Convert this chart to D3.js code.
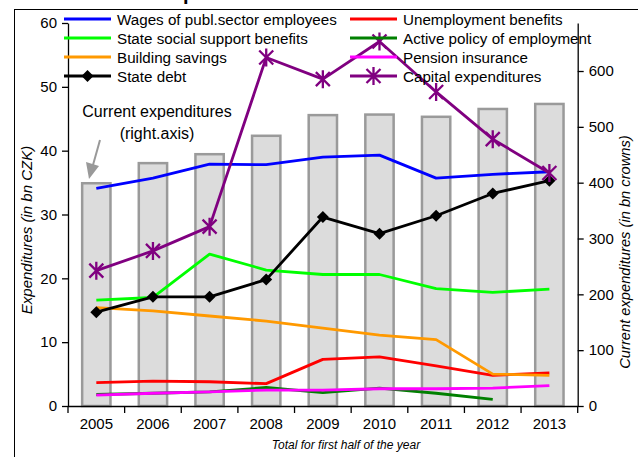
<!DOCTYPE html>
<html>
<head>
<meta charset="utf-8">
<script src="https://cdn.jsdelivr.net/npm/d3@7"></script>
<style>
  body { margin: 0; background: #fff; }
  svg { display: block; font-family: "Liberation Sans", Arial, sans-serif; }
</style>
</head>
<body>
<svg id="chart" width="638" height="457"></svg>
<script>
// data
const years = ["2005", "2006", "2007", "2008", "2009", "2010", "2011", "2012", "2013"];
const currentExp = [399, 435, 451, 484, 521, 522, 518, 532, 541];
const wages = [34.1, 35.7, 37.9, 37.8, 39.0, 39.3, 35.7, 36.3, 36.7];
const unemployment = [3.65, 3.9, 3.8, 3.5, 7.3, 7.7, 6.3, 4.8, 5.2];
const socialSupport = [16.6, 17.0, 23.8, 21.3, 20.6, 20.6, 18.4, 17.8, 18.3];
const activePolicy = [1.8, 2.0, 2.2, 2.9, 2.1, 2.8, 2.0, 1.05, null];
const buildingSavings = [15.4, 14.9, 14.1, 13.3, 12.2, 11.1, 10.4, 5.0, 4.8];
const pension = [1.7, 2.0, 2.2, 2.5, 2.5, 2.7, 2.7, 2.8, 3.2];
const stateDebt = [14.7, 17.1, 17.1, 19.8, 29.6, 27.0, 29.8, 33.3, 35.3];
const capital = [21.2, 24.3, 28.1, 54.6, 51.2, 57.1, 49.2, 41.8, 36.5];
const leftTicks = [0, 10, 20, 30, 40, 50, 60];
const rightTicks = [0, 100, 200, 300, 400, 500, 600];

const series = [
  { name: "Wages of publ.sector employees", values: wages, color: "#0000ff" },
  { name: "Unemployment benefits", values: unemployment, color: "#ff0000" },
  { name: "State social support benefits", values: socialSupport, color: "#00ff00" },
  { name: "Active policy of employment", values: activePolicy, color: "#008000" },
  { name: "Building savings", values: buildingSavings, color: "#ff9900" },
  { name: "Pension insurance", values: pension, color: "#ff00ff" },
  { name: "State debt", values: stateDebt, color: "#000000", marker: "diamond" },
  { name: "Capital expenditures", values: capital, color: "#800080", marker: "star" }
];

const svg = d3.select("#chart");
const plotLeft = 68, plotRight = 577.7, plotTop = 23, plotBottom = 406;

// frame + title (cut off by the top edge, as in the picture)
svg.append("rect")
  .attr("x", 14.5).attr("y", 9.5)
  .attr("width", 700).attr("height", 500)
  .attr("fill", "none").attr("stroke", "#000").attr("stroke-width", 1);
svg.append("text")
  .attr("x", 332).attr("y", 0)
  .attr("text-anchor", "middle")
  .attr("font-size", 20).attr("font-weight", "bold")
  .text("Expenditures of selected state items");

// scales
const x = d3.scaleBand().domain(years).range([plotLeft, plotRight])
  .paddingInner(0.5).paddingOuter(0.25);
const cx = d => x(d) + x.bandwidth() / 2;
const yL = d3.scaleLinear().domain([0, 60]).range([plotBottom, plotTop]);
const yR = d3.scaleLinear().domain([0, 686]).range([plotBottom, plotTop]);

// bars (right axis)
svg.append("g").selectAll("rect")
  .data(currentExp)
  .join("rect")
  .attr("x", (d, i) => x(years[i]))
  .attr("y", d => yR(d))
  .attr("width", x.bandwidth())
  .attr("height", d => yR(0) - yR(d))
  .attr("fill", "#dcdcdc")
  .attr("stroke", "#9a9a9a")
  .attr("stroke-width", 2.5);

// axes
const axL = svg.append("g")
  .attr("transform", `translate(${plotLeft},0)`)
  .call(d3.axisLeft(yL).tickValues(leftTicks).tickSize(6).tickSizeOuter(0).tickPadding(5));
const axR = svg.append("g")
  .attr("transform", `translate(${plotRight},0)`)
  .call(d3.axisRight(yR).tickValues(rightTicks).tickSize(6).tickSizeOuter(0).tickPadding(5));
const axB = svg.append("g")
  .attr("transform", `translate(0,${plotBottom})`)
  .call(d3.axisBottom(x).tickSize(0).tickSizeOuter(0).tickPadding(12));
axB.select(".domain").attr("d", `M${plotLeft},0.5H${plotRight}`);

// category boundary ticks
const boundaries = years.map((d, i) => plotLeft + i * x.step()).concat([plotRight]);
axB.selectAll("line.bnd")
  .data(boundaries)
  .join("line")
  .attr("class", "bnd")
  .attr("x1", d => d).attr("x2", d => d)
  .attr("y1", 0).attr("y2", 7)
  .attr("stroke", "#000");

[axL, axR, axB].forEach(a => {
  a.selectAll("text").attr("font-size", 15).attr("fill", "#000")
    .attr("font-family", "Liberation Sans, Arial, sans-serif");
  a.selectAll("path, line").attr("stroke", "#000").attr("stroke-width", 1.3);
});

// axis titles
svg.append("text")
  .attr("transform", "translate(32,230) rotate(-90)")
  .attr("text-anchor", "middle")
  .attr("font-size", 15).attr("font-style", "italic")
  .text("Expenditures (in bn CZK)");
svg.append("text")
  .attr("transform", "translate(630,252) rotate(-90)")
  .attr("text-anchor", "middle")
  .attr("font-size", 14.7).attr("font-style", "italic")
  .text("Current expenditures (in bn crowns)");
svg.append("text")
  .attr("x", 346).attr("y", 449)
  .attr("text-anchor", "middle")
  .attr("font-size", 12).attr("font-style", "italic")
  .text("Total for first half of the year");

// annotation
svg.append("text")
  .attr("x", 157).attr("y", 117)
  .attr("text-anchor", "middle").attr("font-size", 16)
  .text("Current expenditures");
svg.append("text")
  .attr("x", 157).attr("y", 139)
  .attr("text-anchor", "middle").attr("font-size", 16)
  .text("(right.axis)");
svg.append("line")
  .attr("x1", 100).attr("y1", 140).attr("x2", 93).attr("y2", 165)
  .attr("stroke", "#999").attr("stroke-width", 2);
svg.append("path")
  .attr("d", "M86,162 L99,166 L89,179 Z")
  .attr("fill", "#999");

// markers
function drawMarker(g, type, color) {
  if (type === "diamond") {
    g.append("path").attr("d", "M0,-6L6,0L0,6L-6,0Z").attr("fill", color);
  } else if (type === "star") {
    g.append("path")
      .attr("d", "M-7,-7L7,7M-7,7L7,-7M0,-9V9")
      .attr("stroke", color).attr("stroke-width", 2.3).attr("fill", "none");
  }
}

// lines
const line = d3.line()
  .defined(d => d.v != null)
  .x(d => cx(d.year))
  .y(d => yL(d.v));

series.forEach(s => {
  const pts = s.values.map((v, i) => ({ year: years[i], v: v }));
  svg.append("path")
    .datum(pts)
    .attr("d", line)
    .attr("fill", "none")
    .attr("stroke", s.color)
    .attr("stroke-width", 2.8)
    .attr("stroke-linejoin", "round");
  if (s.marker) {
    pts.filter(p => p.v != null).forEach(p => {
      const g = svg.append("g").attr("transform", `translate(${cx(p.year)},${yL(p.v)})`);
      drawMarker(g, s.marker, s.color);
    });
  }
});

// legend, two columns
const legend = svg.append("g");
series.forEach((s, i) => {
  const col = i % 2, row = Math.floor(i / 2);
  const lx = col === 0 ? 64 : 350;
  const ly = 19 + row * 19;
  const g = legend.append("g").attr("transform", `translate(${lx},${ly})`);
  g.append("line").attr("x1", 0).attr("x2", 47).attr("y1", 0).attr("y2", 0)
    .attr("stroke", s.color).attr("stroke-width", 2.8);
  if (s.marker) {
    drawMarker(g.append("g").attr("transform", "translate(23.5,0)"), s.marker, s.color);
  }
  g.append("text").attr("x", 53).attr("y", 5.5)
    .attr("font-size", 15.2).text(s.name);
});
</script>
</body>
</html>
